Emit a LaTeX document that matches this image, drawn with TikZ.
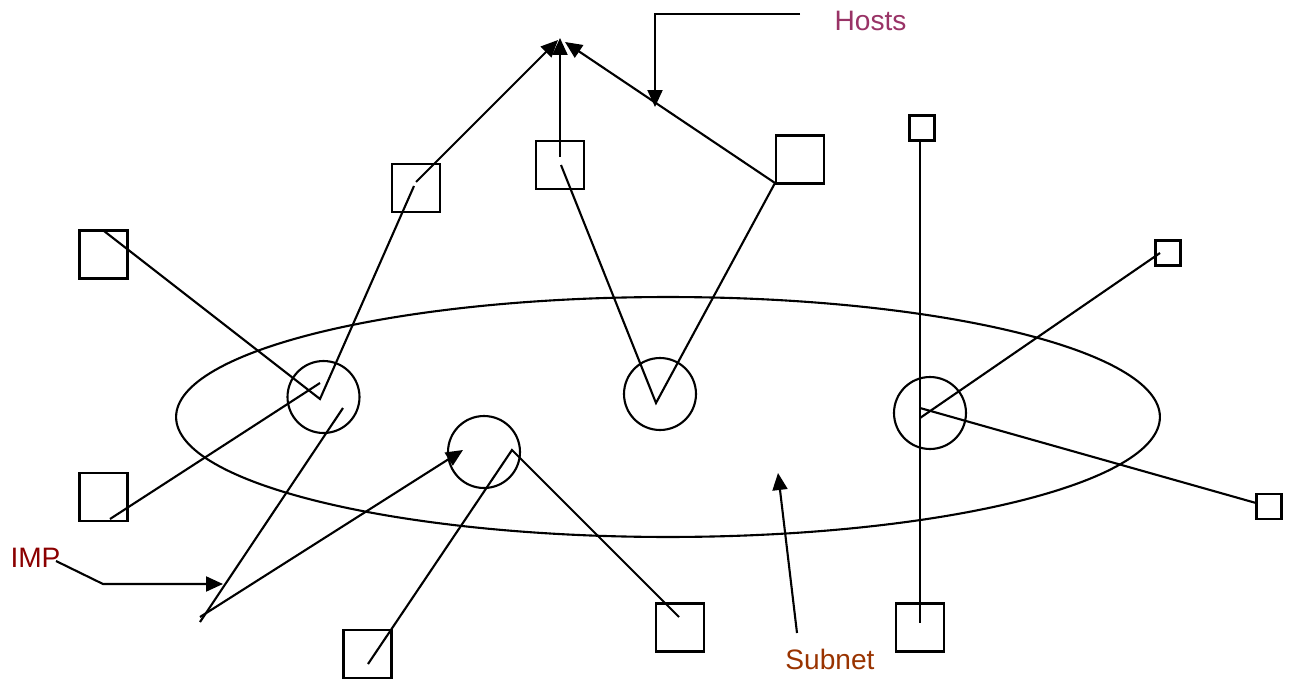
\documentclass[tikz,border=0pt]{standalone}
\usepackage{fontspec}
\setmainfont{Liberation Sans}
\usetikzlibrary{arrows.meta,shapes.geometric}
\definecolor{hostcol}{HTML}{993366}
\definecolor{impcol}{HTML}{8B0000}
\definecolor{subcol}{HTML}{993300}
\begin{document}
\begin{tikzpicture}[x=0.02cm,y=-0.02cm,line width=1.2pt,
  host/.style={draw,line width=1.5pt,inner sep=0pt,minimum size=0.96cm},
  smallhost/.style={draw,line width=1.5pt,inner sep=0pt,minimum size=0.5cm},
  imp/.style={draw,circle,inner sep=0pt,minimum size=1.44cm},
  link/.style={line width=1.2pt},
  tipped/.style={-{Triangle[length=0.34cm,width=0.3cm]}},
  lbl/.style={font=\fontsize{16}{19}\selectfont,inner sep=0pt}]
\useasboundingbox (0,0) rectangle (1292,679);

% subnet
\node[draw,ellipse,minimum width=19.68cm,minimum height=4.8cm,inner sep=0pt] (subnet) at (668,417) {};

% IMPs
\node[imp] (i1) at (323.5,397) {};
\node[imp] (i2) at (484,452) {};
\node[imp] (i3) at (660,394) {};
\node[imp] (i4) at (930,413) {};

% hosts
\node[host] (hA) at (103.5,254.5) {};
\node[host] (hB) at (416,188) {};
\node[host] (hC) at (560,165) {};
\node[host] (hD) at (800,159.5) {};
\node[smallhost] (hE) at (922,128) {};
\node[smallhost] (hF) at (1168,253) {};
\node[smallhost] (hG) at (1269,506.5) {};
\node[host] (hH) at (920,627.5) {};
\node[host] (hI) at (680,627.5) {};
\node[host] (hJ) at (367.5,654) {};
\node[host] (hK) at (103.5,497) {};

% labels
\node[lbl,text=hostcol] (hosts) at (870.5,20.5) {Hosts};
\node[lbl,text=impcol] (implbl) at (35.5,558) {IMP};
\node[lbl,text=subcol] (sublbl) at (830,659) {Subnet};

% coordinates
\coordinate (topL) at (558,40);
\coordinate (topM) at (560,38);
\coordinate (topR) at (565,42);
\coordinate (v1) at (320,399);
\coordinate (v1b) at (320,383);
\coordinate (v1c) at (343,408);
\coordinate (low) at (200,622);
\coordinate (lowb) at (200,617);
\coordinate (i2tip) at (463,450);
\coordinate (v2) at (512,450);
\coordinate (v3) at (656,403);
\coordinate (v4a) at (920,418);
\coordinate (v4b) at (920,408);
\coordinate (aA) at (104,231);
\coordinate (aB1) at (414,186);
\coordinate (aB2) at (416,182);
\coordinate (aC1) at (560,157);
\coordinate (aC2) at (561,165);
\coordinate (aD) at (775,183);
\coordinate (aE) at (920,140.5);
\coordinate (aH) at (920,623);
\coordinate (aF) at (1160,253);
\coordinate (aG) at (1256,503);
\coordinate (aI) at (679,617);
\coordinate (aJ) at (368,664);
\coordinate (aK) at (110,519);
\coordinate (hostsStart) at (800,14);
\coordinate (hostsTip) at (655,107);
\coordinate (impStart) at (56,561);
\coordinate (impBend) at (103,584);
\coordinate (impTip) at (223,584);
\coordinate (subStart) at (797,633);
\coordinate (subTip) at (778,473);

% host-IMP links
\draw[link] (aA) -- (v1) -- (aB1);
\draw[link] (aK) -- (v1b);
\draw[link] (v1c) -- (low);
\draw[link] (aJ) -- (v2) -- (aI);
\draw[link] (aC2) -- (v3) -- (aD);
\draw[link] (aE) -- (aH);
\draw[link] (aF) -- (v4a);
\draw[link] (v4b) -- (aG);

% arrows to the top point
\draw[link,tipped] (aB2) -- (topL);
\draw[link,tipped] (aC1) -- (topM);
\draw[link,tipped] (aD) -- (topR);
\draw[link,tipped] (lowb) -- (i2tip);

% label arrows
\draw[link,tipped] (hostsStart) -| (hostsTip);
\draw[link,tipped] (impStart) -- (impBend) -- (impTip);
\draw[link,tipped] (subStart) -- (subTip);
\end{tikzpicture}
\end{document}
